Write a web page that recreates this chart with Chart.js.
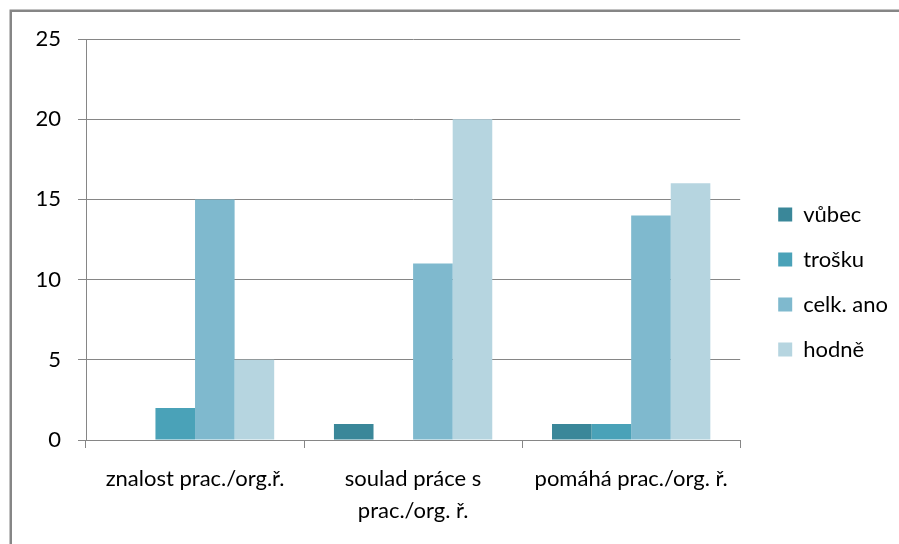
<!doctype html>
<html lang="cs">
<head>
<meta charset="utf-8">
<title>Graf</title>
<script src="https://cdn.jsdelivr.net/npm/chart.js@4.4.1/dist/chart.umd.min.js"></script>
<style>
  html, body { margin: 0; padding: 0; background: #fff; }
  #chart { display: block; }
</style>
</head>
<body>
<canvas id="chart" width="899" height="544"></canvas>
<script>
// data
const categories = ['znalost prac./org.ř.', ['soulad práce s', 'prac./org. ř.'], 'pomáhá prac./org. ř.'];
const seriesNames = ['vůbec', 'trošku', 'celk. ano', 'hodně'];
const vubec = [0, 1, 1];
const trosku = [2, 0, 1];
const celkAno = [15, 11, 14];
const hodne = [5, 20, 16];
const yTicks = [0, 5, 10, 15, 20, 25];

const colors = ['#3a8799', '#4aa2b8', '#7fb9ce', '#b6d5e0'];
const FONT = 'Lato, "Open Sans", sans-serif';
const GRID = '#868686';

// grey frame at top and left, like the pasted office chart
const framePlugin = {
  id: 'frame',
  afterDraw(chart) {
    const c = chart.ctx;
    c.save();
    c.strokeStyle = GRID;
    c.lineWidth = 2.5;
    c.beginPath();
    c.moveTo(10.75, 544);
    c.lineTo(10.75, 10.75);
    c.lineTo(899, 10.75);
    c.stroke();
    c.restore();
  }
};

const values = [vubec, trosku, celkAno, hodne];
const datasets = seriesNames.map((name, i) => ({
  label: name,
  data: values[i],
  backgroundColor: colors[i],
  borderWidth: 0
}));

new Chart(document.getElementById('chart'), {
  type: 'bar',
  data: { labels: categories, datasets: datasets },
  options: {
    responsive: false,
    animation: false,
    categoryPercentage: 0.726,
    barPercentage: 1,
    layout: { padding: { top: 39, bottom: 19, left: 0, right: 1 } },
    plugins: {
      legend: {
        position: 'right',
        labels: {
          boxWidth: 14,
          boxHeight: 14,
          padding: 23,
          color: '#000',
          font: { family: FONT, size: 22 }
        }
      },
      tooltip: { enabled: false }
    },
    scales: {
      x: {
        grid: { drawOnChartArea: false, drawTicks: true, tickLength: 8, color: GRID, offset: true },
        border: { display: true, color: GRID },
        ticks: { color: '#000', padding: 15, maxRotation: 0, autoSkip: false,
                 font: { family: FONT, size: 22, lineHeight: 1.45 } },
        afterFit(s) { s.height = 85; s.paddingLeft = 0; s.paddingRight = 0; }
      },
      y: {
        min: 0,
        max: 25,
        afterBuildTicks(s) { s.ticks = yTicks.map(v => ({ value: v })); },
        grid: { color: GRID, lineWidth: 1, tickLength: 8 },
        border: { display: true, color: GRID },
        ticks: { color: '#000', padding: 17, font: { family: FONT, size: 22 } },
        afterFit(s) { s.width = 86; s.paddingTop = 0; s.paddingBottom = 0; }
      },
      gap: {
        position: 'right',
        display: true,
        grid: { display: false },
        border: { display: false },
        ticks: { display: false },
        afterFit(s) { s.width = 15; s.paddingTop = 0; s.paddingBottom = 0; }
      }
    }
  },
  plugins: [framePlugin]
});
</script>
</body>
</html>
